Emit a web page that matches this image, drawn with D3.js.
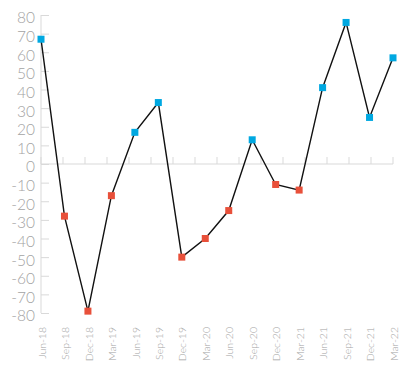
<!DOCTYPE html>
<html>
<head>
<meta charset="utf-8">
<script src="https://cdn.jsdelivr.net/npm/d3@7"></script>
<style>
  body { margin: 0; background: #fff; }
  text { font-family: Lato, "Open Sans", sans-serif; font-weight: 300; }
</style>
</head>
<body>
<div id="canvas"></div>
<script>
var quarters = ["Jun-18", "Sep-18", "Dec-18", "Mar-19", "Jun-19", "Sep-19", "Dec-19", "Mar-20",
  "Jun-20", "Sep-20", "Dec-20", "Mar-21", "Jun-21", "Sep-21", "Dec-21", "Mar-22"];
var values = [67, -28, -79, -17, 17, 33, -50, -40, -25, 13, -11, -14, 41, 76, 25, 57];
var yTicks = [80, 70, 60, 50, 40, 30, 20, 10, 0, -10, -20, -30, -40, -50, -60, -70, -80];

var width = 411, height = 371;
var plotLeft = 41, plotRight = 393, plotTop = 15, plotBottom = 313;

var svg = d3.select("#canvas")
  .append("svg")
  .attr("width", width)
  .attr("height", height);

var x = d3.scalePoint().domain(quarters).range([plotLeft, plotRight]);
var y = d3.scaleLinear().domain([-80, 80]).range([plotBottom, plotTop]);
// the small ticks on the zero line do not line up with the categories
var tickX = d3.scaleLinear().domain([0, 16]).range([plotLeft, plotRight]);

// y axis
var yAxis = svg.append("g").attr("transform", "translate(" + plotLeft + ",0)")
  .call(d3.axisRight(y).tickValues(yTicks).tickSize(8).tickFormat(""));
yAxis.select(".domain").attr("stroke", "#d9d9d9").attr("d", "M0," + plotTop + "V" + plotBottom);
yAxis.selectAll(".tick line").attr("stroke", "#d9d9d9");

svg.append("g").selectAll("text")
  .data(yTicks)
  .enter().append("text")
    .attr("x", plotLeft - 6)
    .attr("y", function(d) { return y(d) + 3; })
    .attr("dy", "0.35em")
    .attr("text-anchor", "end")
    .attr("font-size", 15.5)
    .attr("fill", "#a3a3a3")
    .text(function(d) { return d; });

// zero line with its ticks
svg.append("line")
  .attr("x1", plotLeft).attr("x2", plotRight)
  .attr("y1", y(0)).attr("y2", y(0))
  .attr("stroke", "#d9d9d9");

svg.append("g").selectAll("line")
  .data(d3.range(17))
  .enter().append("line")
    .attr("x1", function(d) { return tickX(d); })
    .attr("x2", function(d) { return tickX(d); })
    .attr("y1", y(0))
    .attr("y2", y(0) - 7)
    .attr("stroke", "#d9d9d9");

// category labels
svg.append("g").selectAll("text")
  .data(quarters)
  .enter().append("text")
    .attr("transform", function(d) { return "translate(" + (x(d) + 1) + "," + (plotBottom + 14) + ") rotate(-90)"; })
    .attr("dy", "0.35em")
    .attr("text-anchor", "end")
    .attr("font-size", 10.5)
    .attr("fill", "#a3a3a3")
    .text(function(d) { return d; });

// line
var line = d3.line()
  .x(function(d, i) { return x(quarters[i]); })
  .y(function(d) { return y(d); });

svg.append("path")
  .datum(values)
  .attr("d", line)
  .attr("fill", "none")
  .attr("stroke", "#111")
  .attr("stroke-width", 1.4);

svg.append("g").selectAll("rect")
  .data(values)
  .enter().append("rect")
    .attr("x", function(d, i) { return x(quarters[i]) - 3.5; })
    .attr("y", function(d) { return y(d) - 3.5; })
    .attr("width", 7)
    .attr("height", 7)
    .attr("fill", function(d) { return d >= 0 ? "#00a8e1" : "#e8503a"; });
</script>
</body>
</html>
